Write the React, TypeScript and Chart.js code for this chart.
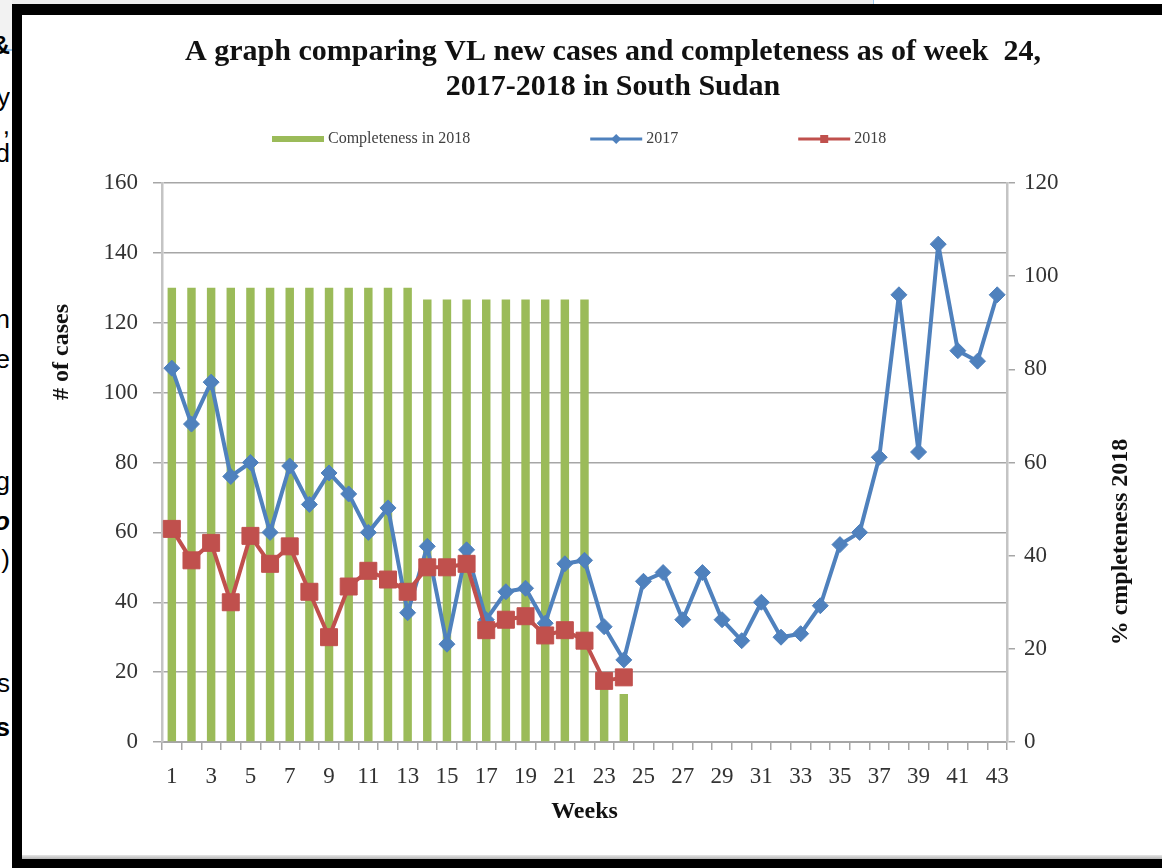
import React, { useEffect, useRef } from 'react';
import { Chart, registerables } from 'chart.js';

Chart.register(...registerables);

// ---------------- data ----------------
const weeks = [
  '1', '2', '3', '4', '5', '6', '7', '8', '9', '10', '11', '12', '13', '14', '15',
  '16', '17', '18', '19', '20', '21', '22', '23', '24', '25', '26', '27', '28', '29',
  '30', '31', '32', '33', '34', '35', '36', '37', '38', '39', '40', '41', '42', '43',
];

// % completeness in 2018 (right axis), weeks 1-24
const completeness2018 = [
  97.5, 97.5, 97.5, 97.5, 97.5, 97.5, 97.5, 97.5, 97.5, 97.5, 97.5, 97.5, 97.5,
  95, 95, 95, 95, 95, 95, 95, 95, 95, 12, 10.3,
];

// new VL cases 2017 (left axis)
const cases2017 = [
  107, 91, 103, 76, 80, 60, 79, 68, 77, 71, 60, 67, 37, 56, 28, 55, 35, 43, 44, 34,
  51, 52, 33, 23.5, 46, 48.5, 35, 48.5, 35, 29, 40, 30, 31, 39, 56.5, 60, 81.5, 128,
  83, 142.5, 112, 109, 128,
];

// new VL cases 2018 (left axis), weeks 1-24
const cases2018 = [
  61, 52, 57, 40, 59, 51, 56, 43, 30, 44.5, 49, 46.5, 43, 50, 50, 51, 32, 35, 36, 30.5,
  32, 29, 17.5, 18.5,
];

const leftAxisRange = [0, 160];
const rightAxisRange = [0, 120];
const tickStep = 20;

const titleLines = [
  'A graph comparing VL new cases and completeness as of week  24,',
  '2017-2018 in South Sudan',
];
const xTitle = 'Weeks';
const yLeftTitle = '# of cases';
const yRightTitle = '% cmpleteness 2018';
const seriesLabels = ['Completeness in 2018', '2017', '2018'];

// clipped letters of the surrounding document at the left edge
const edgeLetters = ['&', 'y', ',', 'd', 'n', 'e', 'g', 'o', ')', 's', 's'];

// ---------------- styles ----------------
const GREEN = '#9BBB59';
const BLUE = '#4F81BD';
const RED = '#C0504D';
const GRID = '#a6a6a6';
const AXIS = '#c4c4c4';
const SERIF = '"Liberation Serif", "Times New Roman", serif';

const edgeLetterStyle: Array<{ top: number; bold?: boolean; italic?: boolean }> = [
  { top: 28, bold: true }, { top: 80 }, { top: 108 }, { top: 136 },
  { top: 302 }, { top: 342 }, { top: 464 }, { top: 504, bold: true, italic: true },
  { top: 542 }, { top: 666 }, { top: 710, bold: true },
];

const legendPlugin = {
  id: 'excelLegend',
  afterDraw(chart: any) {
    const ctx = chart.ctx as CanvasRenderingContext2D;
    const y = chart.chartArea.top - 44;
    let x = chart.chartArea.left + 110;
    const symW = 52;
    ctx.save();
    ctx.font = `16px ${SERIF}`;
    ctx.textBaseline = 'middle';
    ctx.textAlign = 'left';
    chart.data.datasets.forEach((ds: any) => {
      if (ds.type === 'bar') {
        ctx.fillStyle = ds.backgroundColor;
        ctx.fillRect(x, y - 3, symW, 6);
      } else {
        ctx.strokeStyle = ds.borderColor;
        ctx.lineWidth = 3;
        ctx.beginPath();
        ctx.moveTo(x, y);
        ctx.lineTo(x + symW, y);
        ctx.stroke();
        ctx.fillStyle = ds.borderColor;
        const cx = x + symW / 2;
        ctx.beginPath();
        if (ds.pointStyle === 'rectRot') {
          ctx.moveTo(cx - 5, y);
          ctx.lineTo(cx, y - 5);
          ctx.lineTo(cx + 5, y);
          ctx.lineTo(cx, y + 5);
          ctx.closePath();
        } else {
          ctx.rect(cx - 4, y - 4, 8, 8);
        }
        ctx.fill();
      }
      ctx.fillStyle = '#404040';
      ctx.fillText(ds.label, x + symW + 4, y);
      x += symW + 4 + ctx.measureText(ds.label).width + 120;
    });
    ctx.restore();
  },
};

const axisTitlePlugin = {
  id: 'axisTitles',
  afterDraw(chart: any) {
    const ctx = chart.ctx as CanvasRenderingContext2D;
    const area = chart.chartArea;
    ctx.save();
    ctx.font = `bold 24px ${SERIF}`;
    ctx.fillStyle = '#111';
    ctx.textAlign = 'center';
    ctx.textBaseline = 'middle';
    ctx.translate(area.left - 100, area.top + 169);
    ctx.rotate(-Math.PI / 2);
    ctx.fillText(yLeftTitle, 0, 0);
    ctx.restore();

    ctx.save();
    ctx.font = `bold 24px ${SERIF}`;
    ctx.fillStyle = '#111';
    ctx.textAlign = 'center';
    ctx.textBaseline = 'middle';
    ctx.translate(area.right + 114, area.top + 359);
    ctx.rotate(-Math.PI / 2);
    ctx.fillText(yRightTitle, 0, 0);
    ctx.restore();
  },
};

function VLChart() {
  const ref = useRef<HTMLCanvasElement | null>(null);

  useEffect(() => {
    if (!ref.current) return;
    Chart.defaults.font.family = SERIF;
    const chart = new Chart(ref.current, {
      type: 'bar',
      data: {
        labels: weeks,
        datasets: [
          {
            type: 'bar',
            label: seriesLabels[0],
            data: completeness2018,
            yAxisID: 'y1',
            backgroundColor: GREEN,
            borderWidth: 0,
            barPercentage: 0.43,
            categoryPercentage: 1,
            order: 3,
          } as any,
          {
            type: 'line',
            label: seriesLabels[1],
            data: cases2017,
            yAxisID: 'y',
            borderColor: BLUE,
            backgroundColor: BLUE,
            borderWidth: 4,
            borderJoinStyle: 'round',
            borderCapStyle: 'round',
            pointStyle: 'rectRot',
            pointRadius: 8,
            pointBorderWidth: 1,
            pointBorderColor: BLUE,
            pointBackgroundColor: BLUE,
            tension: 0,
            order: 2,
          } as any,
          {
            type: 'line',
            label: seriesLabels[2],
            data: cases2018,
            yAxisID: 'y',
            borderColor: RED,
            backgroundColor: RED,
            borderWidth: 4,
            borderJoinStyle: 'round',
            borderCapStyle: 'round',
            pointStyle: 'rect',
            pointRadius: 12,
            pointBorderWidth: 1,
            pointBorderColor: RED,
            pointBackgroundColor: RED,
            tension: 0,
            order: 1,
          } as any,
        ],
      },
      options: {
        responsive: false,
        animation: false,
        devicePixelRatio: 1,
        layout: { padding: 0 },
        plugins: {
          legend: { display: false },
          tooltip: { enabled: false },
          title: {
            display: true,
            text: titleLines,
            color: '#111',
            font: { family: SERIF, size: 30, weight: 'bold', lineHeight: 1.16 },
            padding: { top: 19.6, bottom: 78.8 },
          },
        },
        scales: {
          x: {
            offset: true,
            afterFit: (s: any) => { s.height = 113; },
            grid: {
              offset: true,
              drawOnChartArea: false,
              drawTicks: true,
              tickLength: 8,
              color: GRID,
              lineWidth: 1.5,
            },
            border: { display: true, color: GRID, width: 2 },
            ticks: {
              autoSkip: false,
              maxRotation: 0,
              minRotation: 0,
              padding: 13,
              color: '#333',
              font: { family: SERIF, size: 23 },
              callback: function (this: any, value: any, index: number) {
                return index % 2 === 0 ? this.getLabelForValue(value) : '';
              },
            },
            title: {
              display: true,
              text: xTitle,
              color: '#111',
              font: { family: SERIF, size: 24, weight: 'bold', lineHeight: 1.2 },
              padding: { top: 0, bottom: 28.6 },
            },
          },
          y: {
            position: 'left',
            min: leftAxisRange[0],
            max: leftAxisRange[1],
            afterFit: (s: any) => { s.width = 140; },
            grid: { color: GRID, lineWidth: 1.5, tickLength: 9, drawTicks: true },
            border: { display: true, color: AXIS, width: 2.5 },
            ticks: {
              stepSize: tickStep,
              padding: 15,
              color: '#333',
              font: { family: SERIF, size: 23 },
            },
          },
          y1: {
            position: 'right',
            min: rightAxisRange[0],
            max: rightAxisRange[1],
            afterFit: (s: any) => { s.width = 197; },
            grid: { drawOnChartArea: false, color: GRID, lineWidth: 1.5, tickLength: 8, drawTicks: true },
            border: { display: true, color: AXIS, width: 2.5 },
            ticks: {
              stepSize: tickStep,
              padding: 9,
              color: '#333',
              font: { family: SERIF, size: 23 },
            },
          },
        },
      } as any,
      plugins: [legendPlugin, axisTitlePlugin],
    });
    return () => chart.destroy();
  }, []);

  return (
    <canvas
      ref={ref}
      width={1182}
      height={840}
      style={{ position: 'absolute', left: 22, top: 15, width: 1182, height: 840 }}
    />
  );
}

export default function App() {
  return (
    <div
      style={{
        position: 'absolute',
        left: 0,
        top: 0,
        width: 1162,
        height: 868,
        overflow: 'hidden',
        background: '#fff',
      }}
    >
      {/* surrounding page */}
      <div style={{ position: 'absolute', left: 0, top: 0, width: 873, height: 4, background: '#ececec' }} />
      <div style={{ position: 'absolute', left: 873, top: 0, width: 1, height: 4, background: '#9cc8ec' }} />
      <div style={{ position: 'absolute', left: 0, top: 0, width: 12, height: 50, background: '#f2f2f2' }} />
      <div style={{ position: 'absolute', left: 0, top: 49, width: 22, height: 2, background: '#9cc8ec' }} />
      {edgeLetters.map((ch, i) => (
        <div
          key={i}
          style={{
            position: 'absolute',
            left: 0,
            top: edgeLetterStyle[i].top,
            width: 10,
            height: 34,
            overflow: 'hidden',
          }}
        >
          <span
            style={{
              position: 'absolute',
              right: 0,
              top: 0,
              font: `${edgeLetterStyle[i].italic ? 'italic ' : ''}${edgeLetterStyle[i].bold ? 'bold ' : ''}26px "Liberation Sans", Arial, sans-serif`,
              color: '#000',
              whiteSpace: 'nowrap',
              lineHeight: '34px',
            }}
          >
            {ch}
          </span>
        </div>
      ))}
      {/* black frame */}
      <div style={{ position: 'absolute', left: 12, top: 4, width: 1170, height: 864, background: '#000' }} />
      <div style={{ position: 'absolute', left: 22, top: 15, width: 1160, height: 844, background: '#fff' }} />
      <div style={{ position: 'absolute', left: 22, top: 855, width: 1160, height: 4, background: 'linear-gradient(#e6e6e6, #b5b5b5)' }} />
      <VLChart />
    </div>
  );
}
